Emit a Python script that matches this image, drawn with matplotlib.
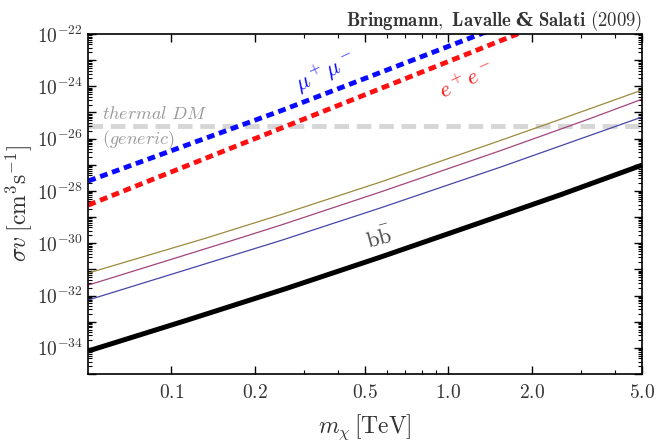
"""Annihilation cross section needed vs DM mass"""
import numpy as np
from matplotlib import pyplot as plt
from matplotlib import ticker

plt.rcParams['mathtext.fontset'] = 'cm'
plt.rcParams['font.family'] = 'serif'
plt.rcParams['font.serif'] = ['DejaVu Serif']

# values (log10 of mass in TeV, log10 of sigma v)
mumu_logm = [-1.300, -0.606, 0.116, 0.400]
mumu_logsv = [-27.62, -24.94, -22.00, -20.85]

ee_logm = [-1.300, 0.249, 0.500]
ee_logsv = [-28.54, -22.00, -20.94]

bb_logm = [-1.300, -0.949, -0.588, -0.245, 0.116, 0.404, 0.700]
bb_logsv = [-34.12, -32.96, -31.74, -30.53, -29.21, -28.15, -27.01]

olive_logm = [-1.300, -0.877, -0.606, -0.245, 0.188, 0.394, 0.700]
olive_logsv = [-31.14, -29.81, -28.91, -27.66, -26.07, -25.30, -24.14]

magenta_logm = [-1.300, -0.758, -0.606, -0.245, 0.188, 0.502, 0.700]
magenta_logsv = [-31.60, -29.82, -29.31, -28.04, -26.46, -25.27, -24.49]

blue_logm = [-1.300, -0.606, -0.245, -0.162, 0.188, 0.700]
blue_logsv = [-32.17, -29.90, -28.65, -28.35, -27.09, -25.17]

thermal_sv = 3e-26

xticks = [0.1, 0.2, 0.5, 1.0, 2.0, 5.0]
xminor = [0.3, 0.4, 0.6, 0.7, 0.8, 0.9, 3.0, 4.0]


def p(a):
    return 10 ** np.array(a)


fig = plt.figure(figsize=(6.72, 4.41), dpi=100)
ax = fig.add_axes([88 / 672, 1 - 374 / 441, (642 - 88) / 672, (374 - 34) / 441])

ax.plot(p(olive_logm), p(olive_logsv), color='#9c8a3c', lw=0.9)
ax.plot(p(magenta_logm), p(magenta_logsv), color='#a3447c', lw=0.9)
ax.plot(p(blue_logm), p(blue_logsv), color='#4646a8', lw=0.9)
ax.axhline(thermal_sv, color='#d6d6d6', lw=3.5, dashes=(3, 1.6), zorder=1)
ax.plot(p(bb_logm), p(bb_logsv), color='black', lw=3.6, solid_capstyle='butt')
ax.plot(p(mumu_logm), p(mumu_logsv), color='#0a0aff', lw=3.5, dashes=(1.6, 1.0))
ax.plot(p(ee_logm), p(ee_logsv), color='#ff1010', lw=3.5, dashes=(1.6, 1.0))

ax.set_xscale('log')
ax.set_yscale('log')
ax.set_xlim(0.05, 5.0)
ax.set_ylim(1e-35, 1e-22)

# ticks like the original: in, on all sides
ax.xaxis.set_major_locator(ticker.FixedLocator(xticks))
ax.xaxis.set_major_formatter(ticker.FixedFormatter([f'${t:.1f}$' for t in xticks]))
ax.xaxis.set_minor_locator(ticker.FixedLocator(xminor))
ax.xaxis.set_minor_formatter(ticker.NullFormatter())
ax.yaxis.set_major_locator(ticker.FixedLocator([10.0 ** e for e in range(-35, -21)]))
ax.yaxis.set_major_formatter(ticker.FixedFormatter(
    ['' if e % 2 else r'$10^{%d}$' % e for e in range(-35, -21)]))
ax.yaxis.set_minor_locator(ticker.LogLocator(base=10, subs=np.arange(2, 10), numticks=30))
ax.yaxis.set_minor_formatter(ticker.NullFormatter())
ax.tick_params(which='both', direction='in', top=True, right=True, labelsize=14,
               labelcolor='#333333')
ax.tick_params(which='major', length=6, width=1)
ax.tick_params(which='minor', length=3, width=0.8)
ax.tick_params(axis='x', pad=7)
for s in ax.spines.values():
    s.set_linewidth(1.2)

fig.text(365 / 672, 1 - 427 / 441, r'$m_\chi\,[\mathrm{TeV}]$', fontsize=17,
         color='#333333', ha='center', va='center')
ax.set_ylabel(r'$\sigma v\;[\mathrm{cm}^3\mathrm{s}^{-1}]$', fontsize=17, color='#333333', labelpad=2)
ax.set_title(r'$\mathbf{Bringmann,\ Lavalle\ }$&$\mathbf{\ Salati\ (2009)}$', loc='right',
             fontsize=13.5, color='#333333', pad=6, fontweight='bold')

# curve labels
ax.text(0.36, 3.4e-24, r'$\mu^+\mu^-$', color='#0a0aff', fontsize=16, rotation=25,
        ha='center', va='center')
ax.text(1.17, 1.5e-24, r'$e^+e^-$', color='#ff1010', fontsize=16, rotation=25,
        ha='center', va='center')
ax.text(0.565, 1.5e-30, r'$\mathrm{b}\bar{\mathrm{b}}$', color='#444444', fontsize=16,
        rotation=15, ha='center', va='center')
ax.text(0.056, 8.5e-26, r'$\mathit{thermal\ DM}$', color='#999999', fontsize=13,
        ha='left', va='center')
ax.text(0.056, 9e-27, r'$\mathit{(generic)}$', color='#999999', fontsize=13,
        ha='left', va='center')

fig.savefig('out.png', dpi=100)
